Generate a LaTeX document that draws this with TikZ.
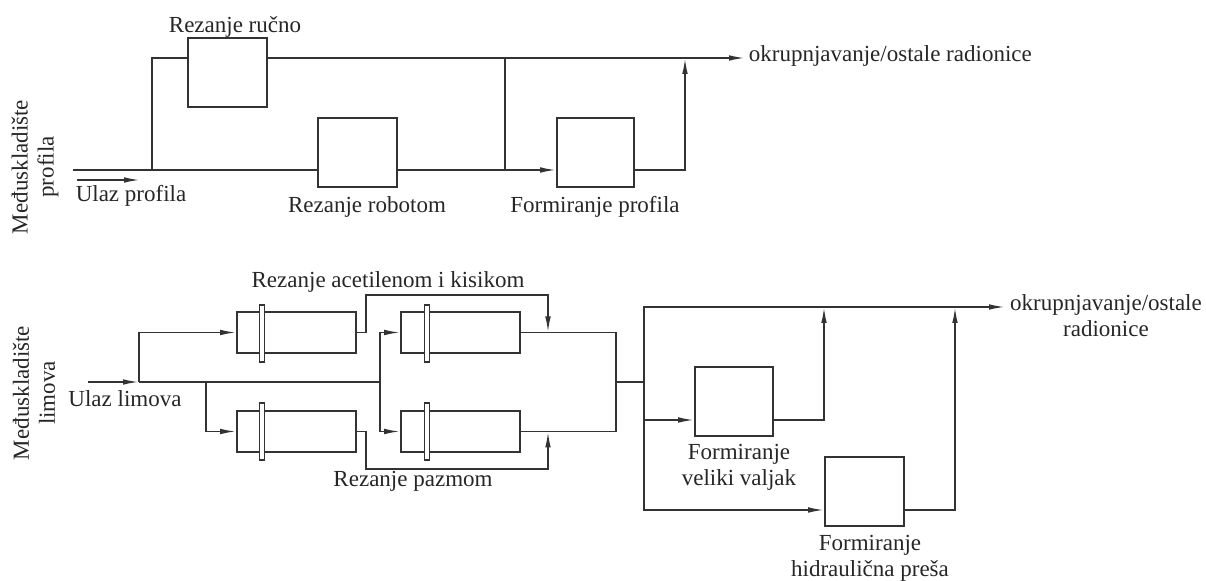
\documentclass[tikz,border=0pt]{standalone}
\usepackage{fontspec}
\setmainfont{Liberation Serif}
\usetikzlibrary{arrows.meta}
\begin{document}
\begin{tikzpicture}[x=0.5pt,y=-0.5pt,line width=0.85pt,color=black!80,
  arr/.style={-{Latex[length=8pt,width=2.8pt]}},
  pbox/.style={draw,rectangle,inner sep=0pt,minimum height=34.5pt,minimum width=39.5pt},
  cbox/.style={draw,rectangle,inner sep=0pt,minimum height=20.5pt,minimum width=59.5pt},
  cbar/.style={draw,fill=white,rectangle,inner sep=0pt,minimum height=28.5pt,minimum width=2.6pt,line width=0.75pt},
  lbl/.style={text=black!85,font=\fontsize{11.5}{13}\selectfont,inner sep=0pt,align=center}]
\useasboundingbox (0,0) rectangle (1206,581);

% ---------- upper part ----------
\node[pbox] (ruc) at (227.5,72.5) {};
\node[pbox] (rob) at (357.5,152.5) {};
\node[pbox,minimum width=38.5pt] (fp) at (595.5,152.5) {};

\coordinate (in1) at (73,170);
\coordinate (j1) at (152,170);
\coordinate (tl) at (152,58);
\coordinate (j2) at (505,170);
\coordinate (m2) at (505,58);
\coordinate (m1) at (685,58);
\coordinate (out1) at (745,58);
\coordinate (sa) at (77,180);
\coordinate (sb) at (140,180);

\draw (in1) -- (rob.west |- in1);
\draw (j1) |- (ruc.west |- tl);
\draw[arr] (ruc.east |- tl) -- (out1);
\draw (rob.east |- in1) -- (j2);
\draw[arr] (j2) -- (fp.west |- in1);
\draw (j2) -- (m2);
\draw[arr] (fp.east |- in1) -| (m1);
\draw[arr] (sa) -- (sb);

\node[lbl] (truc) at (235,27) {Rezanje ručno};
\node[lbl] (trob) at (367,207) {Rezanje robotom};
\node[lbl] (tfp) at (595,207) {Formiranje profila};
\node[lbl] (tul1) at (131,196) {Ulaz profila};
\node[lbl,anchor=west] (tout1) at (748,56) {okrupnjavanje/ostale radionice};
\node[lbl,rotate=90] (tsk1) at (35,167) {Međuskladište\\profila};

% ---------- lower part ----------
\node[cbox] (A1) at (296.5,332.5) {};
\node[cbox] (A2) at (460.5,332.5) {};
\node[cbox] (B1) at (296.5,431.5) {};
\node[cbox] (B2) at (460.5,431.5) {};
\node[cbar] (a1b) at (262,333.5) {};
\node[cbar] (a2b) at (427,333.5) {};
\node[cbar] (b1b) at (262,431.5) {};
\node[cbar] (b2b) at (427,431.5) {};

\coordinate (in2) at (88,382);
\coordinate (bu) at (139,382);
\coordinate (bd) at (206,382);
\coordinate (bm) at (380,382);
\coordinate (ka) at (366,295);
\coordinate (kb) at (548,295);
\coordinate (pa) at (366,469);
\coordinate (pb) at (548,469);
\coordinate (mj) at (616,382);
\coordinate (vj) at (644,382);
\coordinate (cl) at (0,420);
\coordinate (dl) at (0,510);
\coordinate (out2) at (1005,307);
\coordinate (cu) at (824,307);
\coordinate (du) at (955,307);

\draw[arr] (in2) -- (bu);
\draw (bu) -- (bm);
\draw[arr] (bu) |- (A1.west);
\draw[arr] (bd) |- (B1.west);
\draw[arr] (bm) |- (A2.west);
\draw[arr] (bm) |- (B2.west);
\draw[arr] (A1.east) -| (ka) -- (kb) -- (kb |- A2.east);
\draw[arr] (B1.east) -| (pa) -- (pb) -- (pb |- B2.east);
\draw (A2.east) -| (mj) |- (B2.east);
\draw (mj) -- (vj);

\node[pbox,minimum width=39pt] (C) at (734,401.5) {};
\node[pbox] (D) at (864.5,491.5) {};

\draw[arr] (vj) |- (out2);
\draw[arr] (vj) |- (D.west |- dl);
\draw[arr] (vj |- cl) -- (C.west |- cl);
\draw[arr] (C.east |- cl) -| (cu);
\draw[arr] (D.east |- dl) -| (du);

\node[lbl] (tac) at (388,282) {Rezanje acetilenom i kisikom};
\node[lbl] (tpz) at (413,481) {Rezanje pazmom};
\node[lbl] (tul2) at (125,399) {Ulaz limova};
\node[lbl] (tout2) at (1106,316) {okrupnjavanje/ostale\\radionice};
\node[lbl] (tvv) at (739,467) {Formiranje\\veliki valjak};
\node[lbl] (thp) at (870,558) {Formiranje\\hidraulična preša};
\node[lbl,rotate=90] (tsk2) at (34,393) {Međuskladište\\limova};
\end{tikzpicture}
\end{document}
